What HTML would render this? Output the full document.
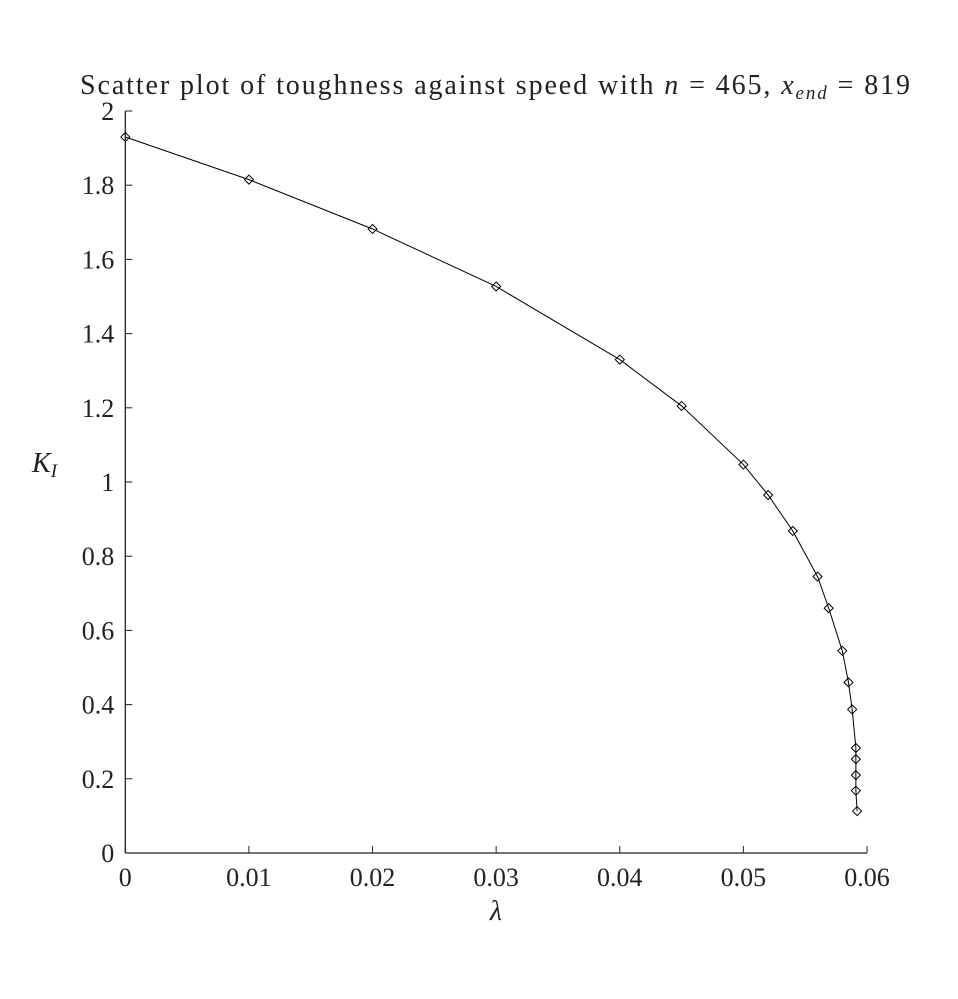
<!DOCTYPE html>
<html><head><meta charset="utf-8"><style>
html,body{margin:0;padding:0;background:#fff;}
svg{display:block;font-family:"Liberation Serif",serif;}
</style></head><body>
<svg id="chart" width="958" height="999" viewBox="0 0 958 999" xmlns="http://www.w3.org/2000/svg">
<rect width="958" height="999" fill="#fff"/>
<text x="495" y="94" font-size="28" text-anchor="middle" fill="#222" textLength="830" lengthAdjust="spacing">Scatter plot of toughness against speed with <tspan font-style="italic">n</tspan> = 465, <tspan font-style="italic">x</tspan><tspan font-style="italic" font-size="19" dy="5">end</tspan><tspan dy="-5"> = 819</tspan></text>
<g id="axes"></g>
<g id="series"></g>
<text x="496" y="920" font-size="28" font-style="italic" text-anchor="middle" fill="#222">λ</text>
<text x="32" y="472" font-size="28" font-style="italic" fill="#222">K<tspan font-size="19" dy="5">I</tspan></text>
</svg>
<script>
const xTicks = [0, 0.01, 0.02, 0.03, 0.04, 0.05, 0.06];
const xTickLabels = ["0", "0.01", "0.02", "0.03", "0.04", "0.05", "0.06"];
const yTicks = [0, 0.2, 0.4, 0.6, 0.8, 1, 1.2, 1.4, 1.6, 1.8, 2];
const yTickLabels = ["0", "0.2", "0.4", "0.6", "0.8", "1", "1.2", "1.4", "1.6", "1.8", "2"];
const speed = [0, 0.01, 0.02, 0.03, 0.04, 0.045, 0.05, 0.052, 0.054, 0.056, 0.0569, 0.058, 0.0585, 0.0588, 0.0591, 0.0591, 0.0591, 0.0591, 0.0592];
const toughness = [1.93, 1.815, 1.682, 1.527, 1.33, 1.205, 1.047, 0.965, 0.868, 0.745, 0.66, 0.545, 0.46, 0.387, 0.283, 0.253, 0.21, 0.168, 0.113];

const NS = "http://www.w3.org/2000/svg";
const L = 125.3, R = 867, B = 853, T = 111;
const xs = v => L + (v - 0) / 0.06 * (R - L);
const ys = v => B - v / 2 * (B - T);
function mk(tag, attrs, parent) {
  const e = document.createElementNS(NS, tag);
  for (const k in attrs) e.setAttribute(k, attrs[k]);
  parent.appendChild(e);
  return e;
}
const axes = document.getElementById('axes');
const xl = mk('line', {x1: L, y1: B, x2: R, y2: B, stroke: '#222', 'stroke-width': 1.3}, axes);


const yl = mk('line', {x1: L, y1: B, x2: L, y2: T, stroke: '#222', 'stroke-width': 1.3}, axes);


xTicks.forEach((v, i) => {
  const t = mk('line', {x1: xs(v), y1: B, x2: xs(v), y2: B - 7, stroke: '#222', 'stroke-width': 1}, axes);
  
  
  const tx = mk('text', {x: xs(v), y: B + 33, 'font-size': 26, 'text-anchor': 'middle', fill: '#222'}, axes);
  tx.textContent = xTickLabels[i];
  
  
});
yTicks.forEach((v, i) => {
  const t = mk('line', {x1: L, y1: ys(v), x2: L + 7, y2: ys(v), stroke: '#222', 'stroke-width': 1}, axes);
  
  
  const tx = mk('text', {x: L - 11, y: ys(v) + 9, 'font-size': 26, 'text-anchor': 'end', fill: '#222'}, axes);
  tx.textContent = yTickLabels[i];
  
  
});
const series = document.getElementById('series');
const pl = mk('polyline', {points: speed.map((v, i) => xs(v) + ',' + ys(toughness[i])).join(' '), fill: 'none', stroke: '#000', 'stroke-width': 1}, series);


speed.forEach((v, i) => {
  const cx = xs(v), cy = ys(toughness[i]), r = 4.5;
  const p = mk('polygon', {points: `${cx},${cy - r} ${cx + r},${cy} ${cx},${cy + r} ${cx - r},${cy}`, fill: 'none', stroke: '#000', 'stroke-width': 1}, series);
  
  
});
</script>
</body></html>
